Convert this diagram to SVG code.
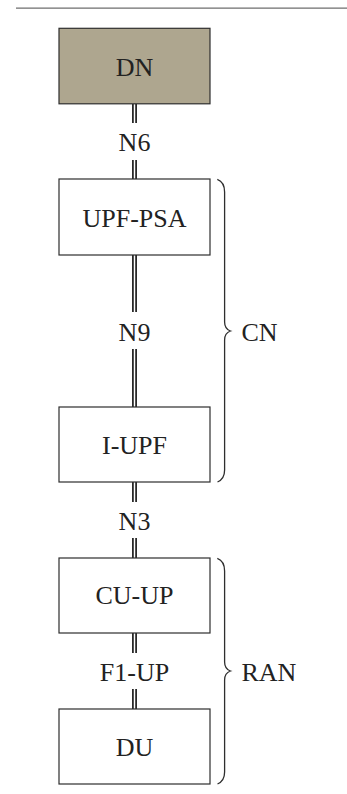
<svg xmlns="http://www.w3.org/2000/svg" width="347" height="794" viewBox="0 0 347 794">
  <style>
    .box { fill: #ffffff; stroke: #2e2e2e; stroke-width: 1.2; }
    .dn { fill: #aea68f; }
    .lbl { font-family: "Liberation Serif", "Times New Roman", serif; font-size: 26px; fill: #222222; text-anchor: middle; }
    .side { font-family: "Liberation Serif", "Times New Roman", serif; font-size: 26px; fill: #222222; }
    .rail { stroke: #1e1e1e; stroke-width: 1.7; fill: none; }
    .brace { stroke: #2e2e2e; stroke-width: 1.3; fill: none; }
  </style>

  <rect width="347" height="794" fill="#ffffff"/>
  <!-- header rule -->
  <line x1="16" y1="8.2" x2="347" y2="8.2" stroke="#6e6e6e" stroke-width="1.3"/>

  <!-- double-rail interface links with their labels -->
  <g id="connectors">
    <!-- N6 -->
    <line class="rail" x1="132.9" y1="104" x2="132.9" y2="123"/>
    <line class="rail" x1="136.1" y1="104" x2="136.1" y2="123"/>
    <line class="rail" x1="132.9" y1="160" x2="132.9" y2="179"/>
    <line class="rail" x1="136.1" y1="160" x2="136.1" y2="179"/>
    <text class="lbl" x="134.5" y="150.5">N6</text>
    <!-- N9 -->
    <line class="rail" x1="132.9" y1="255" x2="132.9" y2="312"/>
    <line class="rail" x1="136.1" y1="255" x2="136.1" y2="312"/>
    <line class="rail" x1="132.9" y1="349" x2="132.9" y2="407"/>
    <line class="rail" x1="136.1" y1="349" x2="136.1" y2="407"/>
    <text class="lbl" x="134.5" y="340.5">N9</text>
    <!-- N3 -->
    <line class="rail" x1="132.9" y1="482" x2="132.9" y2="502"/>
    <line class="rail" x1="136.1" y1="482" x2="136.1" y2="502"/>
    <line class="rail" x1="132.9" y1="538" x2="132.9" y2="558"/>
    <line class="rail" x1="136.1" y1="538" x2="136.1" y2="558"/>
    <text class="lbl" x="134.5" y="530">N3</text>
    <!-- F1-UP -->
    <line class="rail" x1="132.9" y1="633" x2="132.9" y2="653"/>
    <line class="rail" x1="136.1" y1="633" x2="136.1" y2="653"/>
    <line class="rail" x1="132.9" y1="689" x2="132.9" y2="709"/>
    <line class="rail" x1="136.1" y1="689" x2="136.1" y2="709"/>
    <text class="lbl" x="134.5" y="680.5">F1-UP</text>
  </g>

  <g id="dn">
    <rect class="box dn" x="59" y="28.3" width="151" height="75.5"/>
    <text class="lbl" x="134.5" y="75.5">DN</text>
  </g>
  <g id="upf-psa">
    <rect class="box" x="59" y="179" width="151" height="76"/>
    <text class="lbl" x="134.5" y="226.5">UPF-PSA</text>
  </g>
  <g id="i-upf">
    <rect class="box" x="59" y="407" width="151" height="75"/>
    <text class="lbl" x="134.5" y="454">I-UPF</text>
  </g>
  <g id="cu-up">
    <rect class="box" x="59" y="558" width="151" height="75"/>
    <text class="lbl" x="134.5" y="604">CU-UP</text>
  </g>
  <g id="du">
    <rect class="box" x="59" y="709" width="151" height="75"/>
    <text class="lbl" x="134.5" y="756">DU</text>
  </g>

  <!-- curly braces grouping the network domains -->
  <g id="cn">
    <path class="brace" d="M217.3,179.3 Q224.6,182 224.6,192 L224.6,322 Q224.6,329 230.5,331 Q224.6,333 224.6,340 L224.6,470 Q224.6,479 217.5,482"/>
    <text class="side" x="241.5" y="340.5">CN</text>
  </g>
  <g id="ran">
    <path class="brace" d="M217.3,558.3 Q224.6,561 224.6,571 L224.6,662 Q224.6,669 230.5,671 Q224.6,673 224.6,680 L224.6,772 Q224.6,781 217.5,784"/>
    <text class="side" x="241.5" y="680.5">RAN</text>
  </g>
</svg>
